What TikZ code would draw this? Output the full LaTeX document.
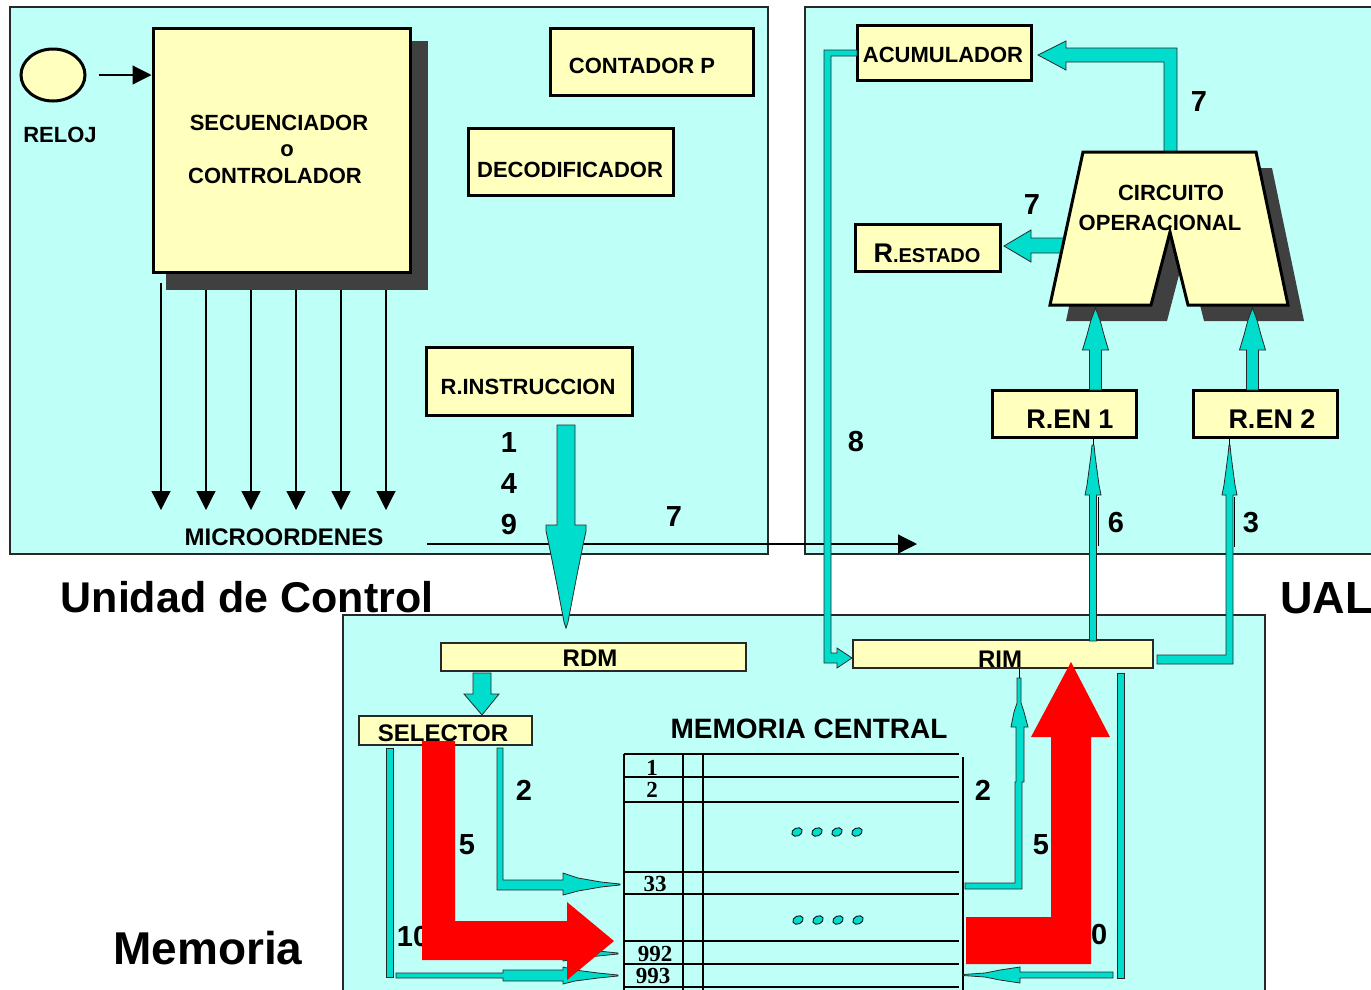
\documentclass[tikz,border=0pt]{standalone}
\usepackage{fontspec}
\setmainfont{Liberation Sans}
\newfontfamily\serifnum{Liberation Serif}
\usetikzlibrary{arrows.meta,calc,shapes.geometric}
\definecolor{panelc}{RGB}{190,255,248}
\definecolor{yfill}{RGB}{255,255,190}
\definecolor{tq}{RGB}{0,221,204}
\definecolor{shadowc}{RGB}{64,64,64}
\definecolor{edgec}{RGB}{40,40,40}
\tikzset{
  panelbox/.style={draw=edgec, line width=1.4pt, fill=panelc},
  ybx/.style={draw=black, line width=3pt, fill=yfill, inner sep=0pt},
  thinbx/.style={draw=edgec, line width=1.5pt, fill=yfill, inner sep=0pt},
  lbl/.style={font=\fontsize{22}{26}\selectfont\bfseries, inner sep=0pt},
  mlbl/.style={font=\fontsize{24}{26}\selectfont\bfseries, inner sep=0pt},
  enlbl/.style={font=\fontsize{27}{29}\selectfont\bfseries, inner sep=0pt},
  num/.style={font=\fontsize{29}{31}\selectfont\bfseries, inner sep=0pt},
  biglbl/.style={font=\fontsize{43}{46}\selectfont\bfseries, inner sep=0pt},
  memnum/.style={font=\serifnum\fontsize{23}{24}\selectfont\bfseries, inner sep=0pt},
  bus/.style={fill=tq, draw=edgec, line width=0.8pt, line join=miter},
  redarrow/.style={fill=red, draw=none},
  thinarrow/.style={line width=1.2pt, -{Triangle[length=19pt,width=19pt]}},
  tline/.style={line width=1.5pt, draw=black},
  dot/.style={fill=tq, draw=black, line width=0.8pt}
}
\begin{document}
\begin{tikzpicture}[x=1pt,y=-1pt]
\useasboundingbox (0,0) rectangle (1371,989);
\fill[white] (0,0) rectangle (1371,989);
% panels
\path[panelbox] (10,7) rectangle (768,554);
\path[panelbox] (805,7) rectangle (1380,554);
\path[panelbox] (343,615) rectangle (1265,1000);

% ===== Unidad de Control =====
\node[draw=black, line width=3pt, fill=yfill, ellipse, minimum width=64pt, minimum height=52pt] (reloj) at (53,75) {};
\node[lbl] (relojt) at (60,135) {RELOJ};
% microorders (drawn before shadow)
\foreach \xx in {161,206,251,296,341,386}{
  \draw[thinarrow] (\xx,283) -- (\xx,510);
}
\fill[shadowc] (166,41) rectangle (428,290);
\node[ybx, minimum width=257pt, minimum height=244pt] (sec) at (281.5,150) {};
\node[lbl] (sect1) at (279,123) {SECUENCIADOR};
\node[lbl] (sect2) at (287,151) {o};
\node[lbl] (sect3) at (275,176) {CONTROLADOR};
\coordinate (relojout) at ($(reloj.east)+(12,0)$);
\draw[thinarrow] (relojout) -- (relojout -| sec.west);

\node[ybx, minimum width=203pt, minimum height=67pt] (cont) at (651.5,61.5) {};
\node[lbl] (contt) at (642,66) {CONTADOR P};
\node[ybx, minimum width=205pt, minimum height=67pt] (dec) at (570.5,161.5) {};
\node[lbl] (dect) at (570,170) {DECODIFICADOR};
\node[ybx, minimum width=206pt, minimum height=68pt] (ri) at (529,381) {};
\node[lbl] (rit) at (528,387) {R.INSTRUCCION};

\node[mlbl] (micro) at (284,537) {MICROORDENES};
\coordinate (mstart) at (427,544);
\coordinate (mend) at (917,544);
\draw[thinarrow] (mstart) -- (mend);
\node[num] (n1) at (509,443) {1};
\node[num] (n4) at (509,484) {4};
\node[num] (n9) at (509,525) {9};
\node[num] (n7a) at (674,517) {7};

% ===== UAL =====
\node[ybx, minimum width=174pt, minimum height=55pt] (acum) at (944,52.5) {};
\node[lbl] (acumt) at (943,55) {ACUMULADOR};
\node[ybx, minimum width=145pt, minimum height=47pt] (rest) at (927.5,247.5) {};
\node[inner sep=0pt, font=\bfseries] (restt) at (927,253) {\fontsize{27}{28}\selectfont R\fontsize{20}{22}\selectfont.ESTADO};

% bus circuit -> acumulador
\filldraw[bus] (1164,156) -- (1164,62) -- (1066,62) -- (1066,70) -- (1038,55) -- (1066,41) -- (1066,48) -- (1177,48) -- (1177,156) -- cycle;
% bus circuit -> R.ESTADO
\filldraw[bus] (1070,238) -- (1031,238) -- (1031,230) -- (1004,246) -- (1031,262) -- (1031,253) -- (1070,253) -- cycle;

% circuito operacional
\fill[shadowc] (1099,168) -- (1272,168) -- (1304,321) -- (1204,321) -- (1186,248) -- (1167,321) -- (1066,321) -- cycle;
\filldraw[fill=yfill, draw=black, line width=3pt, line join=miter] (1083,152) -- (1256,152) -- (1288,305) -- (1188,305) -- (1170,232) -- (1151,305) -- (1050,305) -- cycle;
\node[lbl] (circ1) at (1171,193) {CIRCUITO};
\node[lbl] (circ2) at (1160,223) {OPERACIONAL};
\node[num] (n7b) at (1199,102) {7};
\node[num] (n7c) at (1032,205) {7};

\node[ybx, minimum width=144pt, minimum height=47pt] (ren1) at (1064,413.5) {};
\node[enlbl] (ren1t) at (1070,419) {R.EN 1};
\node[ybx, minimum width=144pt, minimum height=47pt] (ren2) at (1265,413.5) {};
\node[enlbl] (ren2t) at (1272,419) {R.EN 2};

% R.EN -> circuit
\filldraw[bus] (1089.5,390) -- (1089.5,350) -- (1082.5,350) -- (1087,335) -- (1091,320) -- (1095.5,308) -- (1100,320) -- (1104,335) -- (1108.5,350) -- (1101.5,350) -- (1101.5,390) -- cycle;
\filldraw[bus] (1246.5,390) -- (1246.5,350) -- (1239.5,350) -- (1244,335) -- (1248,320) -- (1252.5,308) -- (1257,320) -- (1261,335) -- (1265.5,350) -- (1258.5,350) -- (1258.5,390) -- cycle;

\node[num] (n8) at (856,442) {8};
\node[num] (n6) at (1116,523) {6};
\node[num] (n3) at (1251,523) {3};

% ===== Memoria =====
\node[thinbx, minimum width=305pt, minimum height=28pt] (rdm) at (593.5,657) {};
\node[mlbl] (rdmt) at (590,658) {RDM};
\node[thinbx, minimum width=300pt, minimum height=28pt] (rim) at (1003,654) {};
\node[mlbl] (rimt) at (1000,659) {RIM};
\node[thinbx, minimum width=173pt, minimum height=29pt] (sel) at (445.5,730.5) {};
\node[mlbl] (selt) at (443,733) {SELECTOR};
\node[font=\fontsize{28}{30}\selectfont\bfseries, inner sep=0pt] (memc) at (809,729) {MEMORIA CENTRAL};

% big arrow R.INSTRUCCION -> RDM
\filldraw[bus] (557,425) -- (575,425) -- (575,525) -- (586,525) -- (586,531) -- (583,545) -- (576,580) -- (568,622) -- (566,628) -- (564,622) -- (556,580) -- (549,545) -- (546,531) -- (546,525) -- (557,525) -- cycle;

% left bus acumulador -> RIM
\filldraw[bus] (857,50) -- (824,50) -- (824,663) -- (837,663) -- (837,668) -- (852,658) -- (837,648) -- (837,653) -- (831,653) -- (831,56) -- (857,56) -- cycle;

% RIM -> R.EN1
\filldraw[bus] (1089.5,641) -- (1089.5,495) -- (1085,495) -- (1087,485) -- (1089,470) -- (1091,455) -- (1092,445) -- (1094,445) -- (1095,455) -- (1097,470) -- (1099,485) -- (1101,495) -- (1096.5,495) -- (1096.5,641) -- cycle;
\draw[line width=1pt] (1093,445) -- (1093,437);
\draw[line width=1.8pt] (1098.5,497) -- (1098.5,546);
% RIM -> R.EN2
\filldraw[bus] (1157,655) -- (1226,655) -- (1226,495) -- (1222,495) -- (1224,485) -- (1226,470) -- (1228,455) -- (1229,445) -- (1230,445) -- (1231,455) -- (1233,470) -- (1235,485) -- (1237,495) -- (1233,495) -- (1233,664) -- (1157,664) -- cycle;
\draw[line width=1pt] (1229.5,445) -- (1229.5,437);
\draw[line width=1.8pt] (1234.5,497) -- (1234.5,547);

% RDM -> SELECTOR
\filldraw[bus] (473,673) -- (491,673) -- (491,694) -- (499,694) -- (482,715) -- (464,694) -- (473,694) -- cycle;

% memory table
\foreach \yy in {754,777,802,872,894,941,964,987}{
  \draw[tline] (624,\yy) -- (959,\yy);
}
\draw[tline] (624,754) -- (624,995);
\draw[tline] (683,754) -- (683,995);
\draw[tline] (703,754) -- (703,995);
\draw[tline] (963,757) -- (963,995);
\node[memnum] (m1) at (652,768) {1};
\node[memnum] (m2) at (652,790) {2};
\node[memnum] (m33) at (655,884) {33};
\node[memnum] (m992) at (655,954) {992};
\node[memnum] (m993) at (653,976) {993};
\foreach \xx in {797,817,837,857}{
  \filldraw[dot, rotate around={25:(\xx,832)}] (\xx,832) ellipse (5.5 and 4);
  \filldraw[dot, rotate around={25:(\xx+1,920)}] (\xx+1,920) ellipse (5.5 and 4);
}

% selector outputs
\filldraw[bus] (386,748) rectangle (393,977);
\filldraw[bus] (396,973) -- (503,973) -- (503,970) -- (563,970) -- (563,967) -- (575,970) -- (598,973) -- (618,975) -- (618,976) -- (598,978) -- (575,981) -- (563,984) -- (563,981) -- (503,981) -- (503,978) -- (396,978) -- cycle;
\filldraw[bus] (497,748) -- (503,748) -- (503,880) -- (563,880) -- (563,873) -- (578,878) -- (601,882) -- (620,884) -- (620,885) -- (601,887) -- (578,891) -- (563,895) -- (563,890) -- (497,890) -- cycle;
\filldraw[bus] (540,949) -- (563,949) -- (563,946) -- (575,948) -- (598,951) -- (618,953) -- (618,954) -- (598,956) -- (575,959) -- (563,961) -- (563,958) -- (540,958) -- cycle;

% memory -> RIM (right)
\filldraw[bus] (965,883) -- (1015,883) -- (1015,782) -- (1016,782) -- (1016,727) -- (1011,727) -- (1014,712) -- (1017,703) -- (1017,678) -- (1021,678) -- (1021,703) -- (1024,712) -- (1028,727) -- (1024,727) -- (1024,782) -- (1022,782) -- (1022,889) -- (965,889) -- cycle;
\draw[line width=1pt] (1019,678) -- (1019,668);
\filldraw[bus] (1117,673) rectangle (1124,978);
\filldraw[bus] (1113,972) -- (1020,972) -- (1020,967) -- (1000,970) -- (985,973) -- (963,974.5) -- (963,975.5) -- (985,977) -- (1000,980) -- (1020,983) -- (1020,978) -- (1113,978) -- cycle;

\node[num] (n2a) at (524,790) {2};
\node[num] (n5a) at (467,845) {5};
\node[num] (n10a) at (413,937) {10};
\node[num] (n2b) at (983,790) {2};
\node[num] (n5b) at (1041,845) {5};
\node[num] (n10b) at (1091,935) {10};

% red arrows
\fill[redarrow] (422,741) -- (455,741) -- (455,921) -- (567,921) -- (567,902) -- (614,941) -- (567,980) -- (567,960) -- (422,960) -- cycle;
\fill[redarrow] (966,917) -- (1051,917) -- (1051,737) -- (1031,737) -- (1071,662) -- (1110,737) -- (1091,737) -- (1091,964) -- (966,964) -- cycle;

% titles
\node[biglbl] (tuc) at (247,597) {Unidad de Control};
\node[font=\fontsize{45}{48}\selectfont\bfseries, inner sep=0pt, anchor=east] (tual) at (1373,598) {UAL};
\node[font=\fontsize{46}{48}\selectfont\bfseries, inner sep=0pt] (tmem) at (208,948) {Memoria};
\end{tikzpicture}
\end{document}
